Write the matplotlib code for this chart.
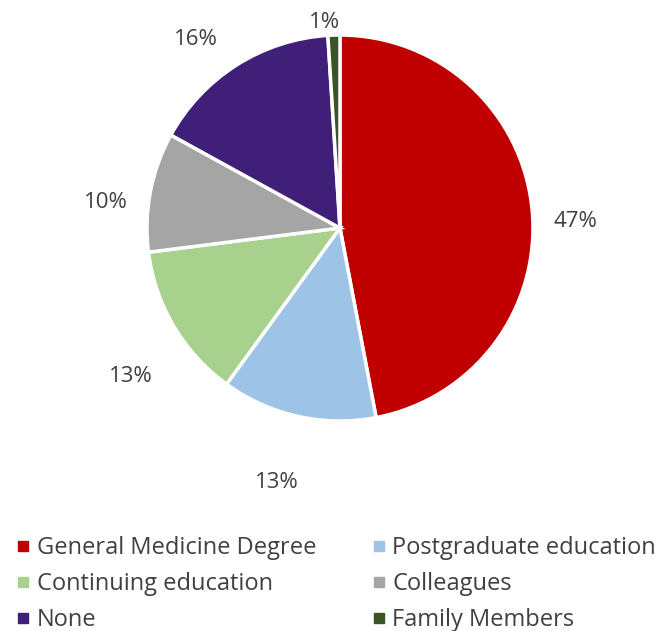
import matplotlib
matplotlib.use("Agg")
import matplotlib.pyplot as plt
from matplotlib.lines import Line2D
import numpy as np

categories = ["General Medicine Degree", "Postgraduate education", "Continuing education",
              "Colleagues", "None", "Family Members"]
values = [47, 13, 13, 10, 16, 1]
colors = ["#C00000", "#9DC3E6", "#A9D18E", "#A5A5A5", "#3F1F77", "#375623"]
label_dist = [1.22, 1.36, 1.33, 1.22, 1.23, 1.07]
label_ang_off = [-3.9, -1.3, 4.7, 4.7, 5.1, 2.4]

plt.rcParams['font.family'] = ['Open Sans', 'DejaVu Sans']
txt_color = "#404040"

fig = plt.figure(figsize=(6.57, 6.31), dpi=100)
ax = fig.add_axes([0.2237, 0.3328, 0.5875, 0.6117])
wedges, _ = ax.pie(values, colors=colors, startangle=90, counterclock=False,
                   radius=1.0, wedgeprops=dict(edgecolor="white", linewidth=2.5))
ax.set_xlim(-1, 1)
ax.set_ylim(-1, 1)
ax.set_aspect('auto')
ax.axis('off')

for w, v, d, o in zip(wedges, values, label_dist, label_ang_off):
    ang = np.deg2rad((w.theta1 + w.theta2) / 2 + o)
    ax.text(d * np.cos(ang), d * np.sin(ang), f"{v}%", ha='center', va='center',
            fontsize=16, color=txt_color, clip_on=False)

handles = [Line2D([0], [0], marker='s', linestyle='none', markersize=7.3,
                  markerfacecolor=c, markeredgecolor=c) for c in colors]
order = [0, 2, 4, 1, 3, 5]  # row-major display in 2 columns
leg = fig.legend([handles[i] for i in order], [categories[i] for i in order],
                 ncol=2, loc='upper left',
                 bbox_to_anchor=(0.012, 0.165), frameon=False, fontsize=17,
                 handlelength=0.5, handletextpad=0.33, columnspacing=2.38,
                 labelspacing=0.5, labelcolor=txt_color, borderaxespad=0)
fig.savefig("out.png", dpi=100)
